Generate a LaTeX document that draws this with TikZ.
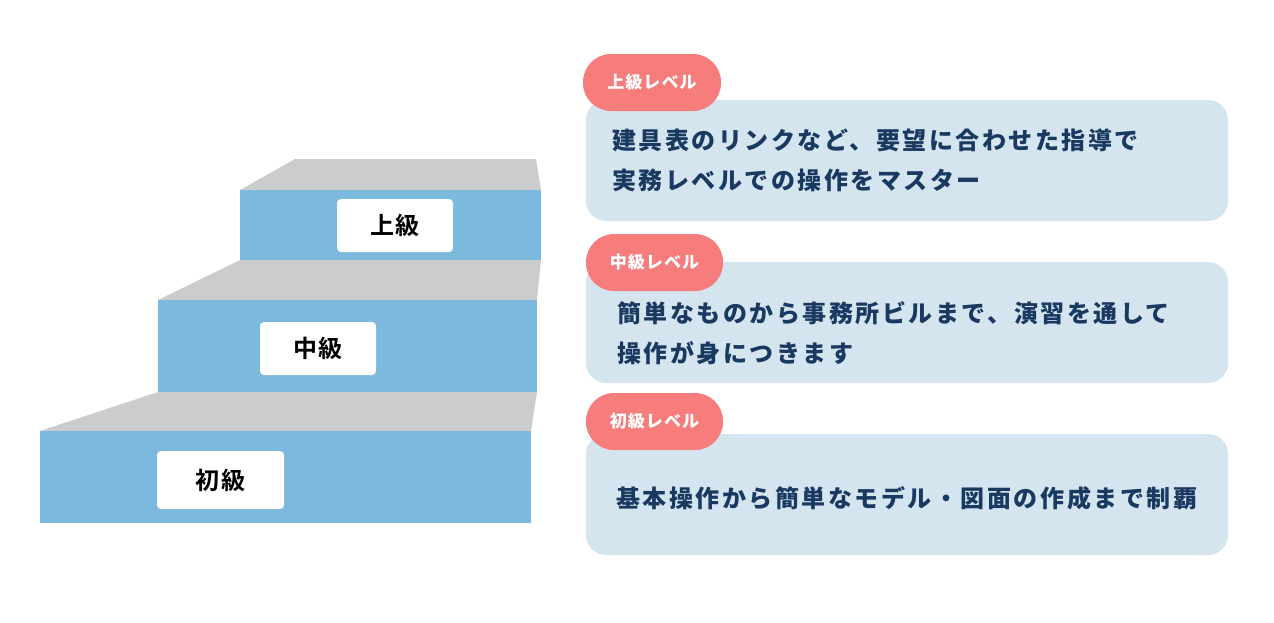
\documentclass[tikz,border=0pt]{standalone}
\usepackage{fontspec}
\newfontfamily\jpbody{Noto Sans CJK JP Black}[LetterSpace=10.5]
\newfontfamily\jppill{Noto Sans CJK JP Black}[LetterSpace=6]
\newfontfamily\jpstep{Noto Sans CJK JP Bold}[LetterSpace=6]
\definecolor{stepblue}{HTML}{7BBADC}
\definecolor{stepgray}{HTML}{CBCCCE}
\definecolor{panelblue}{HTML}{D4E5EF}
\definecolor{pillpink}{HTML}{F77C7C}
\definecolor{navy}{HTML}{1A3961}
\begin{document}
\begin{tikzpicture}[x=1pt,y=-1pt,
  stepface/.style={fill=stepblue},
  steptop/.style={fill=stepgray},
  steplabel/.style={fill=white,rounded corners=4pt,inner sep=0pt,font=\jpstep\fontsize{24}{28}\selectfont,text=black},
  panel/.style={fill=panelblue,rounded corners=20pt,inner sep=0pt},
  pill/.style={fill=pillpink,rounded corners=28pt,inner sep=0pt,text=white,font=\jppill\fontsize{17}{20}\selectfont},
  bodytext/.style={anchor=west,inner sep=0pt,text=navy,font=\jpbody\fontsize{24}{28}\selectfont}
]
\useasboundingbox (0,0) rectangle (1274,622);
\fill[white] (0,0) rectangle (1274,622);
% stairs
\fill[steptop] (295,159) -- (536,159) -- (541,190) -- (240,190) -- cycle;
\fill[stepface] (240,190) rectangle (541,260);
\fill[steptop] (240,260) -- (541,260) -- (537,300) -- (158,300) -- cycle;
\fill[stepface] (158,300) rectangle (537,392);
\fill[steptop] (158,392) -- (537,392) -- (531,431) -- (40,431) -- cycle;
\fill[stepface] (40,431) rectangle (531,523);
\node[steplabel,minimum width=116pt,minimum height=53pt] (lab3) at (395,225.5) {上級};
\node[steplabel,minimum width=116pt,minimum height=53pt] (lab2) at (318,348.5) {中級};
\node[steplabel,minimum width=127pt,minimum height=58pt] (lab1) at (220.5,480) {初級};
% panels
\node[panel,minimum width=642pt,minimum height=121pt] (p3) at (907,160.5) {};
\node[panel,minimum width=642pt,minimum height=121pt] (p2) at (907,322.5) {};
\node[panel,minimum width=642pt,minimum height=121pt] (p1) at (907,494.5) {};
\node[pill,minimum width=138pt,minimum height=57pt] (pl3) at (652,82.5) {上級レベル};
\node[pill,minimum width=137pt,minimum height=57pt] (pl2) at (654.5,262.5) {中級レベル};
\node[pill,minimum width=137pt,minimum height=57pt] (pl1) at (654.5,421.5) {初級レベル};
% texts
\node[bodytext] (t3a) at (612,140) {建具表のリンクなど、要望に合わせた指導で};
\node[bodytext] (t3b) at (612,180) {実務レベルでの操作をマスター};
\node[bodytext] (t2a) at (617,313) {簡単なものから事務所ビルまで、演習を通して};
\node[bodytext] (t2b) at (617,353) {操作が身につきます};
\node[bodytext] (t1a) at (616,498) {基本操作から簡単なモデル・図面の作成まで制覇};
\end{tikzpicture}
\end{document}
